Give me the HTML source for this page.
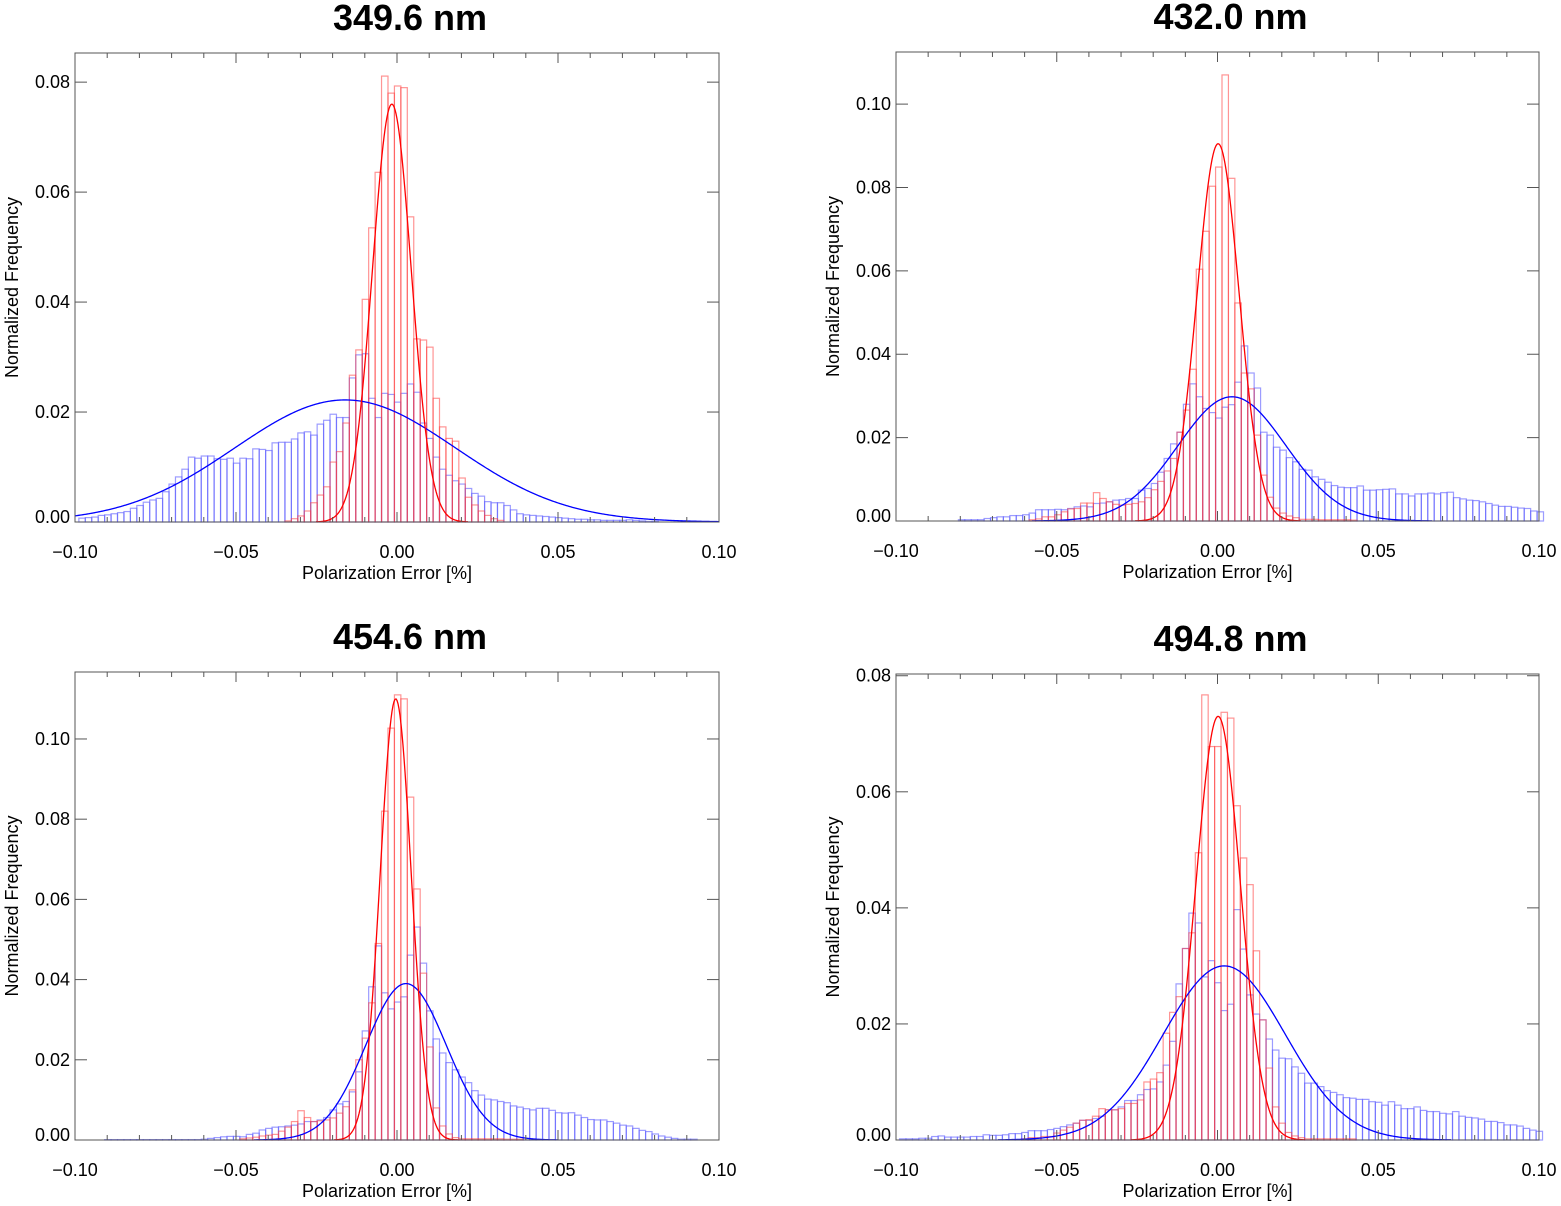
<!DOCTYPE html>
<html><head><meta charset="utf-8"><style>
html,body{margin:0;padding:0;background:#fff;}
svg{display:block;font-family:"Liberation Sans",sans-serif;}
</style></head><body>
<svg id="chart" width="1561" height="1206" viewBox="0 0 1561 1206" xmlns="http://www.w3.org/2000/svg"></svg>
<script>
// ---------- data ----------
const titles = ["349.6 nm","432.0 nm","454.6 nm","494.8 nm"];
const xTicks = [-0.10,-0.05,0.00,0.05,0.10];
const xTickLabels = ["\u22120.10","\u22120.05","0.00","0.05","0.10"];
const yTicksA = [0,0.02,0.04,0.06,0.08];
const yTicksB = [0,0.02,0.04,0.06,0.08,0.10];
const yLabelsA = ["0.00","0.02","0.04","0.06","0.08"];
const yLabelsB = ["0.00","0.02","0.04","0.06","0.08","0.10"];
const binWidth = 0.002;
const binStarts = [-0.0988,-0.0986,-0.0988,-0.0989];
const yMaxes = [0.0853,0.1125,0.1167,0.0803];

const p1Blue = [0.0007,0.0008,0.0009,0.0012,0.0013,0.0015,0.0017,0.0019,0.0025,0.003,0.0036,0.004,0.0043,0.0055,0.0069,0.0082,0.0096,0.0118,0.0116,0.012,0.012,0.0115,0.0114,0.0116,0.0107,0.0116,0.0115,0.0133,0.0132,0.013,0.0144,0.0145,0.0145,0.0151,0.0162,0.0164,0.0158,0.0178,0.0185,0.0196,0.019,0.019,0.0262,0.0304,0.0306,0.0225,0.019,0.0234,0.0232,0.0218,0.0234,0.0251,0.0236,0.018,0.0152,0.0118,0.0096,0.0085,0.0075,0.0069,0.0061,0.0052,0.0047,0.0037,0.0035,0.0035,0.003,0.0022,0.0015,0.0013,0.0012,0.0011,0.001,0.0009,0.0008,0.0007,0.0006,0.0005,0.0005,0.0004,0.0004,0.0003,0.0003,0.0003,0.0003,0.0004,0.0003,0.0002,0.0001,0.0001];
const p1Red = [0,0,0,0,0,0,0,0,0,0,0,0,0,0,0,0,0,0,0,0,0,0,0,0,0,0,0,0,0,0,0,0,0.0002,0.0006,0.0011,0.002,0.0035,0.0049,0.0064,0.0109,0.0128,0.018,0.0267,0.0313,0.0405,0.0535,0.0636,0.0811,0.078,0.0793,0.079,0.0555,0.0333,0.0331,0.0318,0.0225,0.0173,0.0152,0.0147,0.008,0.0045,0.0031,0.002,0.0012,0.0006,0.0003];
const p2Blue = [0,0,0,0,0,0,0,0,0,0.0003,0.0003,0.0003,0.0003,0.0006,0.0008,0.001,0.001,0.0013,0.0013,0.0015,0.0019,0.0027,0.0027,0.0027,0.0028,0.0027,0.003,0.0034,0.0036,0.0034,0.0042,0.0043,0.0046,0.005,0.0051,0.0054,0.0054,0.0074,0.0078,0.009,0.0117,0.015,0.0185,0.0213,0.028,0.0329,0.0298,0.027,0.026,0.0247,0.0273,0.0279,0.0333,0.042,0.0355,0.0319,0.0213,0.0206,0.0177,0.017,0.0152,0.0142,0.0124,0.0122,0.0106,0.01,0.0093,0.0085,0.0081,0.008,0.008,0.0084,0.0074,0.0074,0.0075,0.0076,0.0077,0.0065,0.0065,0.006,0.0065,0.0065,0.0067,0.0065,0.0068,0.0069,0.0056,0.0053,0.005,0.0049,0.0046,0.0042,0.0038,0.0035,0.0035,0.0033,0.0031,0.003,0.0024,0.0022];
const p2Red = [0,0,0,0,0,0,0,0,0,0,0,0,0,0,0,0,0,0,0,0,0.0003,0.0005,0.001,0.001,0.0015,0.0022,0.0029,0.003,0.0043,0.0043,0.0068,0.0054,0.0046,0.004,0.0038,0.004,0.0042,0.0046,0.0056,0.0075,0.0095,0.012,0.015,0.0213,0.0266,0.0364,0.0604,0.0695,0.0803,0.0849,0.107,0.0822,0.0523,0.0355,0.0317,0.0206,0.011,0.0057,0.0031,0.0019,0.0012,0.0008,0.0004,0.0004,0.0004,0.0003,0.0003,0.0003,0.0003,0.0003,0.0002];
const p3Blue = [0,0,0,0,0.0001,0.0001,0.0001,0.0001,0.0001,0.0001,0.0001,0.0001,0.0001,0.0001,0.0001,0.0001,0.0001,0.0001,0.0001,0.0002,0.0004,0.0006,0.0008,0.0009,0.0009,0.0008,0.0014,0.0017,0.0025,0.0029,0.0032,0.0033,0.0035,0.0037,0.004,0.0046,0.0046,0.005,0.0056,0.0075,0.009,0.0096,0.012,0.017,0.0272,0.0382,0.0484,0.0367,0.0327,0.0344,0.0357,0.0461,0.0531,0.0441,0.0322,0.0252,0.0217,0.0193,0.0175,0.0157,0.0143,0.0123,0.0112,0.0102,0.01,0.0096,0.0093,0.0085,0.0082,0.0078,0.0075,0.0079,0.0079,0.0074,0.0068,0.0067,0.0068,0.0062,0.0056,0.0051,0.005,0.005,0.0046,0.0042,0.0037,0.0035,0.0029,0.0024,0.0021,0.0015,0.001,0.0007,0.0004,0.0002,0.0002,0.0002];
const p3Red = [0,0,0,0,0,0,0,0,0,0,0,0,0,0,0,0,0,0,0,0,0,0,0,0,0,0.0003,0.0005,0.0007,0.001,0.0012,0.0014,0.0022,0.0032,0.0046,0.0073,0.0056,0.0046,0.0048,0.005,0.0055,0.0067,0.0083,0.0125,0.02,0.0254,0.0342,0.049,0.082,0.1027,0.111,0.11,0.0855,0.0626,0.0416,0.0232,0.008,0.0035,0.0015,0.0006,0.0003,0.0003,0.0003,0.0003,0.0003,0.0003,0.0003,0.0002,0.0002,0.0002];
const p4Blue = [0.0002,0.0002,0.0002,0.0003,0.0003,0.0006,0.0007,0.0005,0.0005,0.0005,0.0005,0.0006,0.0006,0.0009,0.0008,0.0008,0.0009,0.0011,0.0011,0.0013,0.0016,0.0016,0.0016,0.0018,0.002,0.0023,0.0026,0.0029,0.0034,0.0034,0.0037,0.0041,0.0052,0.0052,0.0057,0.0068,0.0068,0.0078,0.0087,0.0088,0.01,0.0129,0.017,0.0269,0.033,0.0391,0.0374,0.0281,0.0309,0.0271,0.0223,0.0234,0.0397,0.0329,0.025,0.0217,0.0207,0.0174,0.0155,0.0141,0.014,0.0126,0.0115,0.0098,0.0098,0.0092,0.0085,0.0082,0.0078,0.0073,0.0072,0.007,0.007,0.0066,0.0065,0.006,0.0066,0.006,0.0054,0.0054,0.0057,0.0051,0.0049,0.0049,0.0046,0.0045,0.0049,0.0041,0.0039,0.0038,0.0036,0.0032,0.0032,0.003,0.0026,0.0026,0.0024,0.002,0.0017,0.0015];
const p4Red = [0,0,0,0,0,0,0,0,0,0,0,0,0,0,0,0,0,0,0,0.0002,0.0004,0.0004,0.0006,0.0006,0.0012,0.0017,0.0022,0.0029,0.0034,0.0035,0.0041,0.0054,0.0052,0.0052,0.0054,0.0063,0.0063,0.0069,0.01,0.0105,0.0116,0.0184,0.022,0.0247,0.033,0.0357,0.0495,0.0767,0.0678,0.0678,0.0737,0.0727,0.0576,0.0486,0.044,0.0326,0.0207,0.0124,0.0057,0.0029,0.0013,0.0007,0.0004,0.0002,0.0002,0.0002,0.0002,0.0002,0.0002,0.0002,0.0002];
// gaussian fit parameters [amplitude, mean, sigma]
const p1RedFit = [0.076,-0.0016,0.0060];
const p1BlueFit = [0.0222,-0.0161,0.0343];
const p2RedFit = [0.0905,0.0002,0.0065];
const p2BlueFit = [0.0298,0.0045,0.0168];
const p3RedFit = [0.110,-0.0004,0.0048];
const p3BlueFit = [0.039,0.0028,0.0125];
const p4RedFit = [0.073,0.0002,0.0069];
const p4BlueFit = [0.030,0.0021,0.019];

// ---------- layout ----------
const boxes = [
  {l:75,r:719,t:53,b:522},
  {l:896,r:1539,t:52,b:521},
  {l:75,r:719,t:672,b:1140},
  {l:896,r:1539,t:674,b:1140}
];
const panels = [
  {blue:p1Blue, red:p1Red, bf:p1BlueFit, rf:p1RedFit, yt:yTicksA, yl:yLabelsA},
  {blue:p2Blue, red:p2Red, bf:p2BlueFit, rf:p2RedFit, yt:yTicksB, yl:yLabelsB},
  {blue:p3Blue, red:p3Red, bf:p3BlueFit, rf:p3RedFit, yt:yTicksB, yl:yLabelsB},
  {blue:p4Blue, red:p4Red, bf:p4BlueFit, rf:p4RedFit, yt:yTicksA, yl:yLabelsA}
];
const NS = "http://www.w3.org/2000/svg";
const svg = document.getElementById('chart');
function mk(tag, attrs, parent){
  const e = document.createElementNS(NS, tag);
  for (const k in attrs) e.setAttribute(k, attrs[k]);
  parent.appendChild(e);
  return e;
}
panels.forEach((p, i) => {
  const B = boxes[i];
  const yMax = yMaxes[i];
  const xs = v => B.l + (v + 0.1) / 0.2 * (B.r - B.l);
  const ys = v => B.b - v / yMax * (B.b - B.t);
  const g = mk('g', {}, svg);
  
  

  const title = mk('text', {x:(B.l+B.r)/2+13, y:B.t-23, 'text-anchor':'middle', 'font-size':36, 'font-weight':'bold', fill:'#000'}, g);
  title.textContent = titles[i];
  
  

  function hist(vals, stroke, name){
    const hg = mk('g', {fill:'none', stroke:stroke, 'stroke-width':1.2}, g);
    
    
    vals.forEach((v, k) => {
      if (v <= 0) return;
      const x0 = xs(binStarts[i] + k*binWidth), x1 = xs(binStarts[i] + (k+1)*binWidth);
      const r = mk('rect', {x:x0, y:ys(v), width:x1-x0, height:ys(0)-ys(v)}, hg);
      
      
    });
  }
  hist(p.blue, 'rgba(90,90,255,0.6)', 'aeronet-histogram');
  hist(p.red, 'rgba(255,60,60,0.55)', 'model-histogram');

  function fit(par, color, name){
    let d = '';
    for (let px = B.l; px <= B.r; px += 1) {
      const x = (px - B.l) / (B.r - B.l) * 0.2 - 0.1;
      const v = par[0] * Math.exp(-0.5 * Math.pow((x - par[1]) / par[2], 2));
      if (v < 0.00003) continue;
      d += (d ? 'L' : 'M') + px + ' ' + ys(v).toFixed(2);
    }
    const pa = mk('path', {d:d, fill:'none', stroke:color, 'stroke-width':1.3}, g);
    
    
  }
  fit(p.bf, '#0000ff', 'aeronet-gaussian-fit');
  fit(p.rf, '#ff0000', 'model-gaussian-fit');

  const frame = mk('rect', {x:B.l, y:B.t, width:B.r-B.l, height:B.b-B.t, fill:'none', stroke:'#555', 'stroke-width':1}, g);
  
  

  const ax = mk('g', {stroke:'#555', 'stroke-width':1}, g);
  
  
  for (let m = -10; m <= 10; m++) {
    const x = xs(m/100);
    const len = (m % 5 === 0) ? 10 : 5;
    mk('line', {x1:x, x2:x, y1:B.b, y2:B.b-len}, ax);
    mk('line', {x1:x, x2:x, y1:B.t, y2:B.t+len}, ax);
  }
  p.yt.forEach((v, k) => {
    const y = ys(v);
    mk('line', {x1:B.l, x2:B.l+12, y1:y, y2:y}, ax);
    mk('line', {x1:B.r, x2:B.r-12, y1:y, y2:y}, ax);
    const t = mk('text', {x:B.l-5, y:y+(k===0?1:6), 'text-anchor':'end', 'font-size':18, fill:'#000', stroke:'none'}, g);
    t.textContent = p.yl[k];
    
    
  });
  xTicks.forEach((v, k) => {
    const t = mk('text', {x:xs(v), y:B.b+36, 'text-anchor':'middle', 'font-size':18, fill:'#000'}, g);
    t.textContent = xTickLabels[k];
    
    
  });
  const xt = mk('text', {x:(B.l+B.r)/2-10, y:B.b+57, 'text-anchor':'middle', 'font-size':18, fill:'#000'}, g);
  xt.textContent = 'Polarization Error [%]';
  
  
  const cx = B.l - 57, cy = (B.t+B.b)/2;
  const yt = mk('text', {x:cx, y:cy, 'text-anchor':'middle', 'font-size':18, fill:'#000', transform:'rotate(-90 '+cx+' '+cy+')'}, g);
  yt.textContent = 'Normalized Frequency';
  
  
});
</script>
</body></html>
